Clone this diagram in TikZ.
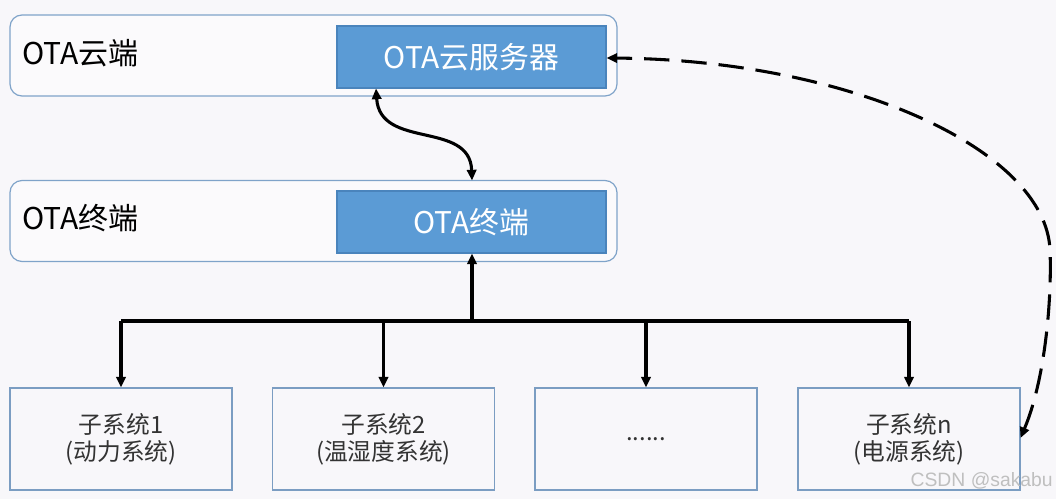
\documentclass[tikz,border=0pt]{standalone}
\usepackage{fontspec}
\setmainfont{Noto Sans CJK SC}
\newfontfamily\wmfont{Liberation Sans}
\usetikzlibrary{arrows.meta}
\definecolor{bgc}{HTML}{F8F7FA}
\definecolor{bluefill}{HTML}{5B9BD5}
\definecolor{blueedge}{HTML}{4A84BC}
\definecolor{outeredge}{HTML}{7FA3C9}
\definecolor{subedge}{HTML}{7B9DC2}
\definecolor{subtext}{HTML}{333333}
\tikzset{
  outerbox/.style={draw=outeredge, line width=0.9pt, rounded corners=9pt, fill=white!40!bgc, minimum width=607*0.75pt, minimum height=81*0.75pt, inner sep=0pt},
  bluebox/.style={draw=blueedge, line width=0.8pt, fill=bluefill, text=white, minimum width=269*0.75pt, minimum height=62*0.75pt, inner sep=0pt, font=\fontsize{22.4}{26}\selectfont},
  subbox/.style={draw=subedge, line width=0.8pt, fill=bgc, text=subtext, minimum width=222*0.75pt, minimum height=102*0.75pt, inner sep=0pt, align=center, font=\fontsize{17.8}{20.5}\selectfont},
  grouplabel/.style={anchor=west, inner sep=0pt, font=\fontsize{22.5}{26}\selectfont},
  conn/.style={line width=2.3pt, -{Triangle[length=8pt,width=7pt]}},
  dconn/.style={line width=2.3pt, dash pattern=on 19pt off 9pt, {Triangle[length=8pt,width=7pt]}-{Triangle[length=8pt,width=7pt]}}
}
\begin{document}
\begin{tikzpicture}[x=0.75pt,y=-0.75pt]
\fill[bgc] (0,0) rectangle (1056,499);
\useasboundingbox (0,0) rectangle (1056,499);
% top group
\node[outerbox] (cloud) at (313.5,55.5) {};
\node[grouplabel] (cloudlabel) at (22,53) {OTA云端};
\node[bluebox] (server) at (471.5,57) {OTA云服务器};
% middle group
\node[outerbox] (term) at (313.5,221) {};
\node[grouplabel] (termlabel) at (22,218) {OTA终端};
\node[bluebox] (terminal) at (471.5,222) {OTA终端};
% subsystems
\node[subbox] (s1) at (121,439) {子系统1\\(动力系统)};
\node[subbox] (s2) at (383.5,439) {子系统2\\(温湿度系统)};
\node[subbox] (s3) at (646,439) {......};
\node[subbox] (sn) at (909,439) {子系统n\\(电源系统)};
% curvy link
\coordinate (c1) at (376,88.5);
\coordinate (c2) at (472,180.5);
\draw[line width=2.3pt, {Triangle[length=8pt,width=7pt]}-{Triangle[length=8pt,width=7pt]}]
  (c1) .. controls (380,150) and (470,120) .. (c2);
% bus
\coordinate (bus) at (472,321);
\coordinate (bl) at (121,321);
\coordinate (br) at (909,321);
\draw[conn] (bus) -- (terminal.south -| bus);
\draw[line width=2.3pt] (bl) -- (br);
\draw[conn] (bl) -- (s1.north);
\draw[conn] (383.5,321) -- (s2.north);
\draw[conn] (646,321) -- (s3.north);
\draw[conn] (br) -- (sn.north);
% dashed link
\coordinate (d1) at (1020.5,438);
\coordinate (d2) at (1050,250);
\coordinate (d3) at (606.5,58);
\draw[dconn] (d1) .. controls (1045,380) and (1052,300) .. (d2)
  .. controls (1046,150) and (850,60) .. (d3);
% watermark
\node[anchor=east, inner sep=0pt, text=black!25, font=\wmfont\fontsize{14.5}{16}\selectfont] (wm) at (1053,481) {CSDN @sakabu};
\end{tikzpicture}
\end{document}
